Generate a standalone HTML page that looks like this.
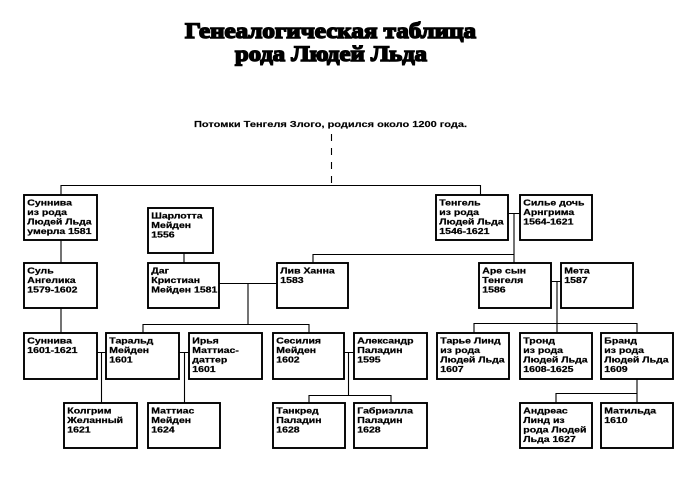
<!DOCTYPE html>
<html><head><meta charset="utf-8"><style>
html,body{margin:0;padding:0;background:#fff;}
svg{display:block;}
.t{font-family:"Liberation Sans","DejaVu Sans",sans-serif;font-weight:bold;font-size:8.6px;fill:#000;stroke:#000;stroke-width:0.25;}
.b{fill:#fff;stroke:#000;stroke-width:1.9;}
.l{stroke:#000;stroke-width:1.1;fill:none;}
</style></head><body>
<svg width="700" height="480" viewBox="0 0 700 480" xmlns="http://www.w3.org/2000/svg">
<rect width="700" height="480" fill="#fff"/>
<text x="185" y="38" textLength="291" lengthAdjust="spacingAndGlyphs" font-family="Liberation Serif, serif" font-weight="bold" font-size="22" stroke="#000" stroke-width="1.5">Генеалогическая таблица</text>
<text x="235" y="61" textLength="192" lengthAdjust="spacingAndGlyphs" font-family="Liberation Serif, serif" font-weight="bold" font-size="22" stroke="#000" stroke-width="1.5">рода Людей Льда</text>
<text x="194" y="127" textLength="273" lengthAdjust="spacingAndGlyphs" font-family="Liberation Sans, sans-serif" font-weight="bold" font-size="8.5" stroke="#000" stroke-width="0.15">Потомки Тенгеля Злого, родился около 1200 года.</text>

<!-- connectors -->
<line class="l" x1="331.5" y1="134" x2="331.5" y2="185" stroke-dasharray="7,7"/>
<path class="l" d="M61,185.5H480.5 M61,185V195 M480.5,185V195
M61,240V263 M61,308V333
M184,253V263
M219,283.5H277 M248,283V324
M143,324.5H309 M143,324V333 M309,324V333
M313,263V254.5H514 M508,213.5H520 M514,213V263
M551,281.5H561 M557,281V333 M474,323.5H637 M474,323V333 M637,323V333
M97,352.5H106 M101.5,352V403
M179,352.5H189 M184.5,352V403
M344,352.5H354 M348.5,352V395 M309,395.5H391 M309,395V403 M391,395V403
M637,379V393.5 M556,393.5H637 M556,393V403 M637,393V403"/>

<!-- boxes -->
<g>
<rect class="b" x="24" y="195" width="73" height="45"/>
<rect class="b" x="148" y="208" width="65" height="45"/>
<rect class="b" x="436" y="195" width="72" height="45"/>
<rect class="b" x="520" y="195" width="72" height="45"/>

<rect class="b" x="24" y="263" width="73" height="45"/>
<rect class="b" x="148" y="263" width="71" height="45"/>
<rect class="b" x="277" y="263" width="71" height="45"/>
<rect class="b" x="479" y="263" width="72" height="45"/>
<rect class="b" x="561" y="263" width="72" height="45"/>

<rect class="b" x="24" y="333" width="73" height="46"/>
<rect class="b" x="106" y="333" width="73" height="46"/>
<rect class="b" x="189" y="333" width="73" height="46"/>
<rect class="b" x="273" y="333" width="71" height="46"/>
<rect class="b" x="354" y="333" width="73" height="46"/>
<rect class="b" x="437" y="333" width="72" height="46"/>
<rect class="b" x="520" y="333" width="72" height="46"/>
<rect class="b" x="601" y="333" width="72" height="46"/>

<rect class="b" x="64" y="403" width="73" height="45"/>
<rect class="b" x="148" y="403" width="72" height="45"/>
<rect class="b" x="273" y="403" width="72" height="45"/>
<rect class="b" x="354" y="403" width="73" height="45"/>
<rect class="b" x="520" y="403" width="72" height="45"/>
<rect class="b" x="601" y="403" width="72" height="45"/>
</g>

<!-- texts -->
<g class="t">
<text transform="translate(27.3,205.3) scale(1.22,1)"><tspan x="0">Суннива</tspan><tspan x="0" dy="9.6">из рода</tspan><tspan x="0" dy="9.6">Людей Льда</tspan><tspan x="0" dy="9.6">умерла 1581</tspan></text>
<text transform="translate(151.3,218.3) scale(1.22,1)"><tspan x="0">Шарлотта</tspan><tspan x="0" dy="9.6">Мейден</tspan><tspan x="0" dy="9.6">1556</tspan></text>
<text transform="translate(439.3,205.3) scale(1.22,1)"><tspan x="0">Тенгель</tspan><tspan x="0" dy="9.6">из рода</tspan><tspan x="0" dy="9.6">Людей Льда</tspan><tspan x="0" dy="9.6">1546-1621</tspan></text>
<text transform="translate(523.3,205.3) scale(1.22,1)"><tspan x="0">Силье дочь</tspan><tspan x="0" dy="9.6">Арнгрима</tspan><tspan x="0" dy="9.6">1564-1621</tspan></text>

<text transform="translate(27.3,273.3) scale(1.22,1)"><tspan x="0">Суль</tspan><tspan x="0" dy="9.6">Ангелика</tspan><tspan x="0" dy="9.6">1579-1602</tspan></text>
<text transform="translate(151.3,273.3) scale(1.22,1)"><tspan x="0">Даг</tspan><tspan x="0" dy="9.6">Кристиан</tspan><tspan x="0" dy="9.6">Мейден 1581</tspan></text>
<text transform="translate(280.3,273.3) scale(1.22,1)"><tspan x="0">Лив Ханна</tspan><tspan x="0" dy="9.6">1583</tspan></text>
<text transform="translate(482.3,273.3) scale(1.22,1)"><tspan x="0">Аре сын</tspan><tspan x="0" dy="9.6">Тенгеля</tspan><tspan x="0" dy="9.6">1586</tspan></text>
<text transform="translate(564.3,273.3) scale(1.22,1)"><tspan x="0">Мета</tspan><tspan x="0" dy="9.6">1587</tspan></text>

<text transform="translate(27.3,343.3) scale(1.22,1)"><tspan x="0">Суннива</tspan><tspan x="0" dy="9.6">1601-1621</tspan></text>
<text transform="translate(109.3,343.3) scale(1.22,1)"><tspan x="0">Таральд</tspan><tspan x="0" dy="9.6">Мейден</tspan><tspan x="0" dy="9.6">1601</tspan></text>
<text transform="translate(192.3,343.3) scale(1.22,1)"><tspan x="0">Ирья</tspan><tspan x="0" dy="9.6">Маттиас-</tspan><tspan x="0" dy="9.6">даттер</tspan><tspan x="0" dy="9.6">1601</tspan></text>
<text transform="translate(276.3,343.3) scale(1.22,1)"><tspan x="0">Сесилия</tspan><tspan x="0" dy="9.6">Мейден</tspan><tspan x="0" dy="9.6">1602</tspan></text>
<text transform="translate(357.3,343.3) scale(1.22,1)"><tspan x="0">Александр</tspan><tspan x="0" dy="9.6">Паладин</tspan><tspan x="0" dy="9.6">1595</tspan></text>
<text transform="translate(440.3,343.3) scale(1.22,1)"><tspan x="0">Тарье Линд</tspan><tspan x="0" dy="9.6">из рода</tspan><tspan x="0" dy="9.6">Людей Льда</tspan><tspan x="0" dy="9.6">1607</tspan></text>
<text transform="translate(523.3,343.3) scale(1.22,1)"><tspan x="0">Тронд</tspan><tspan x="0" dy="9.6">из рода</tspan><tspan x="0" dy="9.6">Людей Льда</tspan><tspan x="0" dy="9.6">1608-1625</tspan></text>
<text transform="translate(604.3,343.3) scale(1.22,1)"><tspan x="0">Бранд</tspan><tspan x="0" dy="9.6">из рода</tspan><tspan x="0" dy="9.6">Людей Льда</tspan><tspan x="0" dy="9.6">1609</tspan></text>

<text transform="translate(67.3,413.3) scale(1.22,1)"><tspan x="0">Колгрим</tspan><tspan x="0" dy="9.6">Желанный</tspan><tspan x="0" dy="9.6">1621</tspan></text>
<text transform="translate(151.3,413.3) scale(1.22,1)"><tspan x="0">Маттиас</tspan><tspan x="0" dy="9.6">Мейден</tspan><tspan x="0" dy="9.6">1624</tspan></text>
<text transform="translate(276.3,413.3) scale(1.22,1)"><tspan x="0">Танкред</tspan><tspan x="0" dy="9.6">Паладин</tspan><tspan x="0" dy="9.6">1628</tspan></text>
<text transform="translate(357.3,413.3) scale(1.22,1)"><tspan x="0">Габриэлла</tspan><tspan x="0" dy="9.6">Паладин</tspan><tspan x="0" dy="9.6">1628</tspan></text>
<text transform="translate(523.3,413.3) scale(1.22,1)"><tspan x="0">Андреас</tspan><tspan x="0" dy="9.6">Линд из</tspan><tspan x="0" dy="9.6">рода Людей</tspan><tspan x="0" dy="9.6">Льда 1627</tspan></text>
<text transform="translate(604.3,413.3) scale(1.22,1)"><tspan x="0">Матильда</tspan><tspan x="0" dy="9.6">1610</tspan></text>
</g>
</svg>
</body></html>
